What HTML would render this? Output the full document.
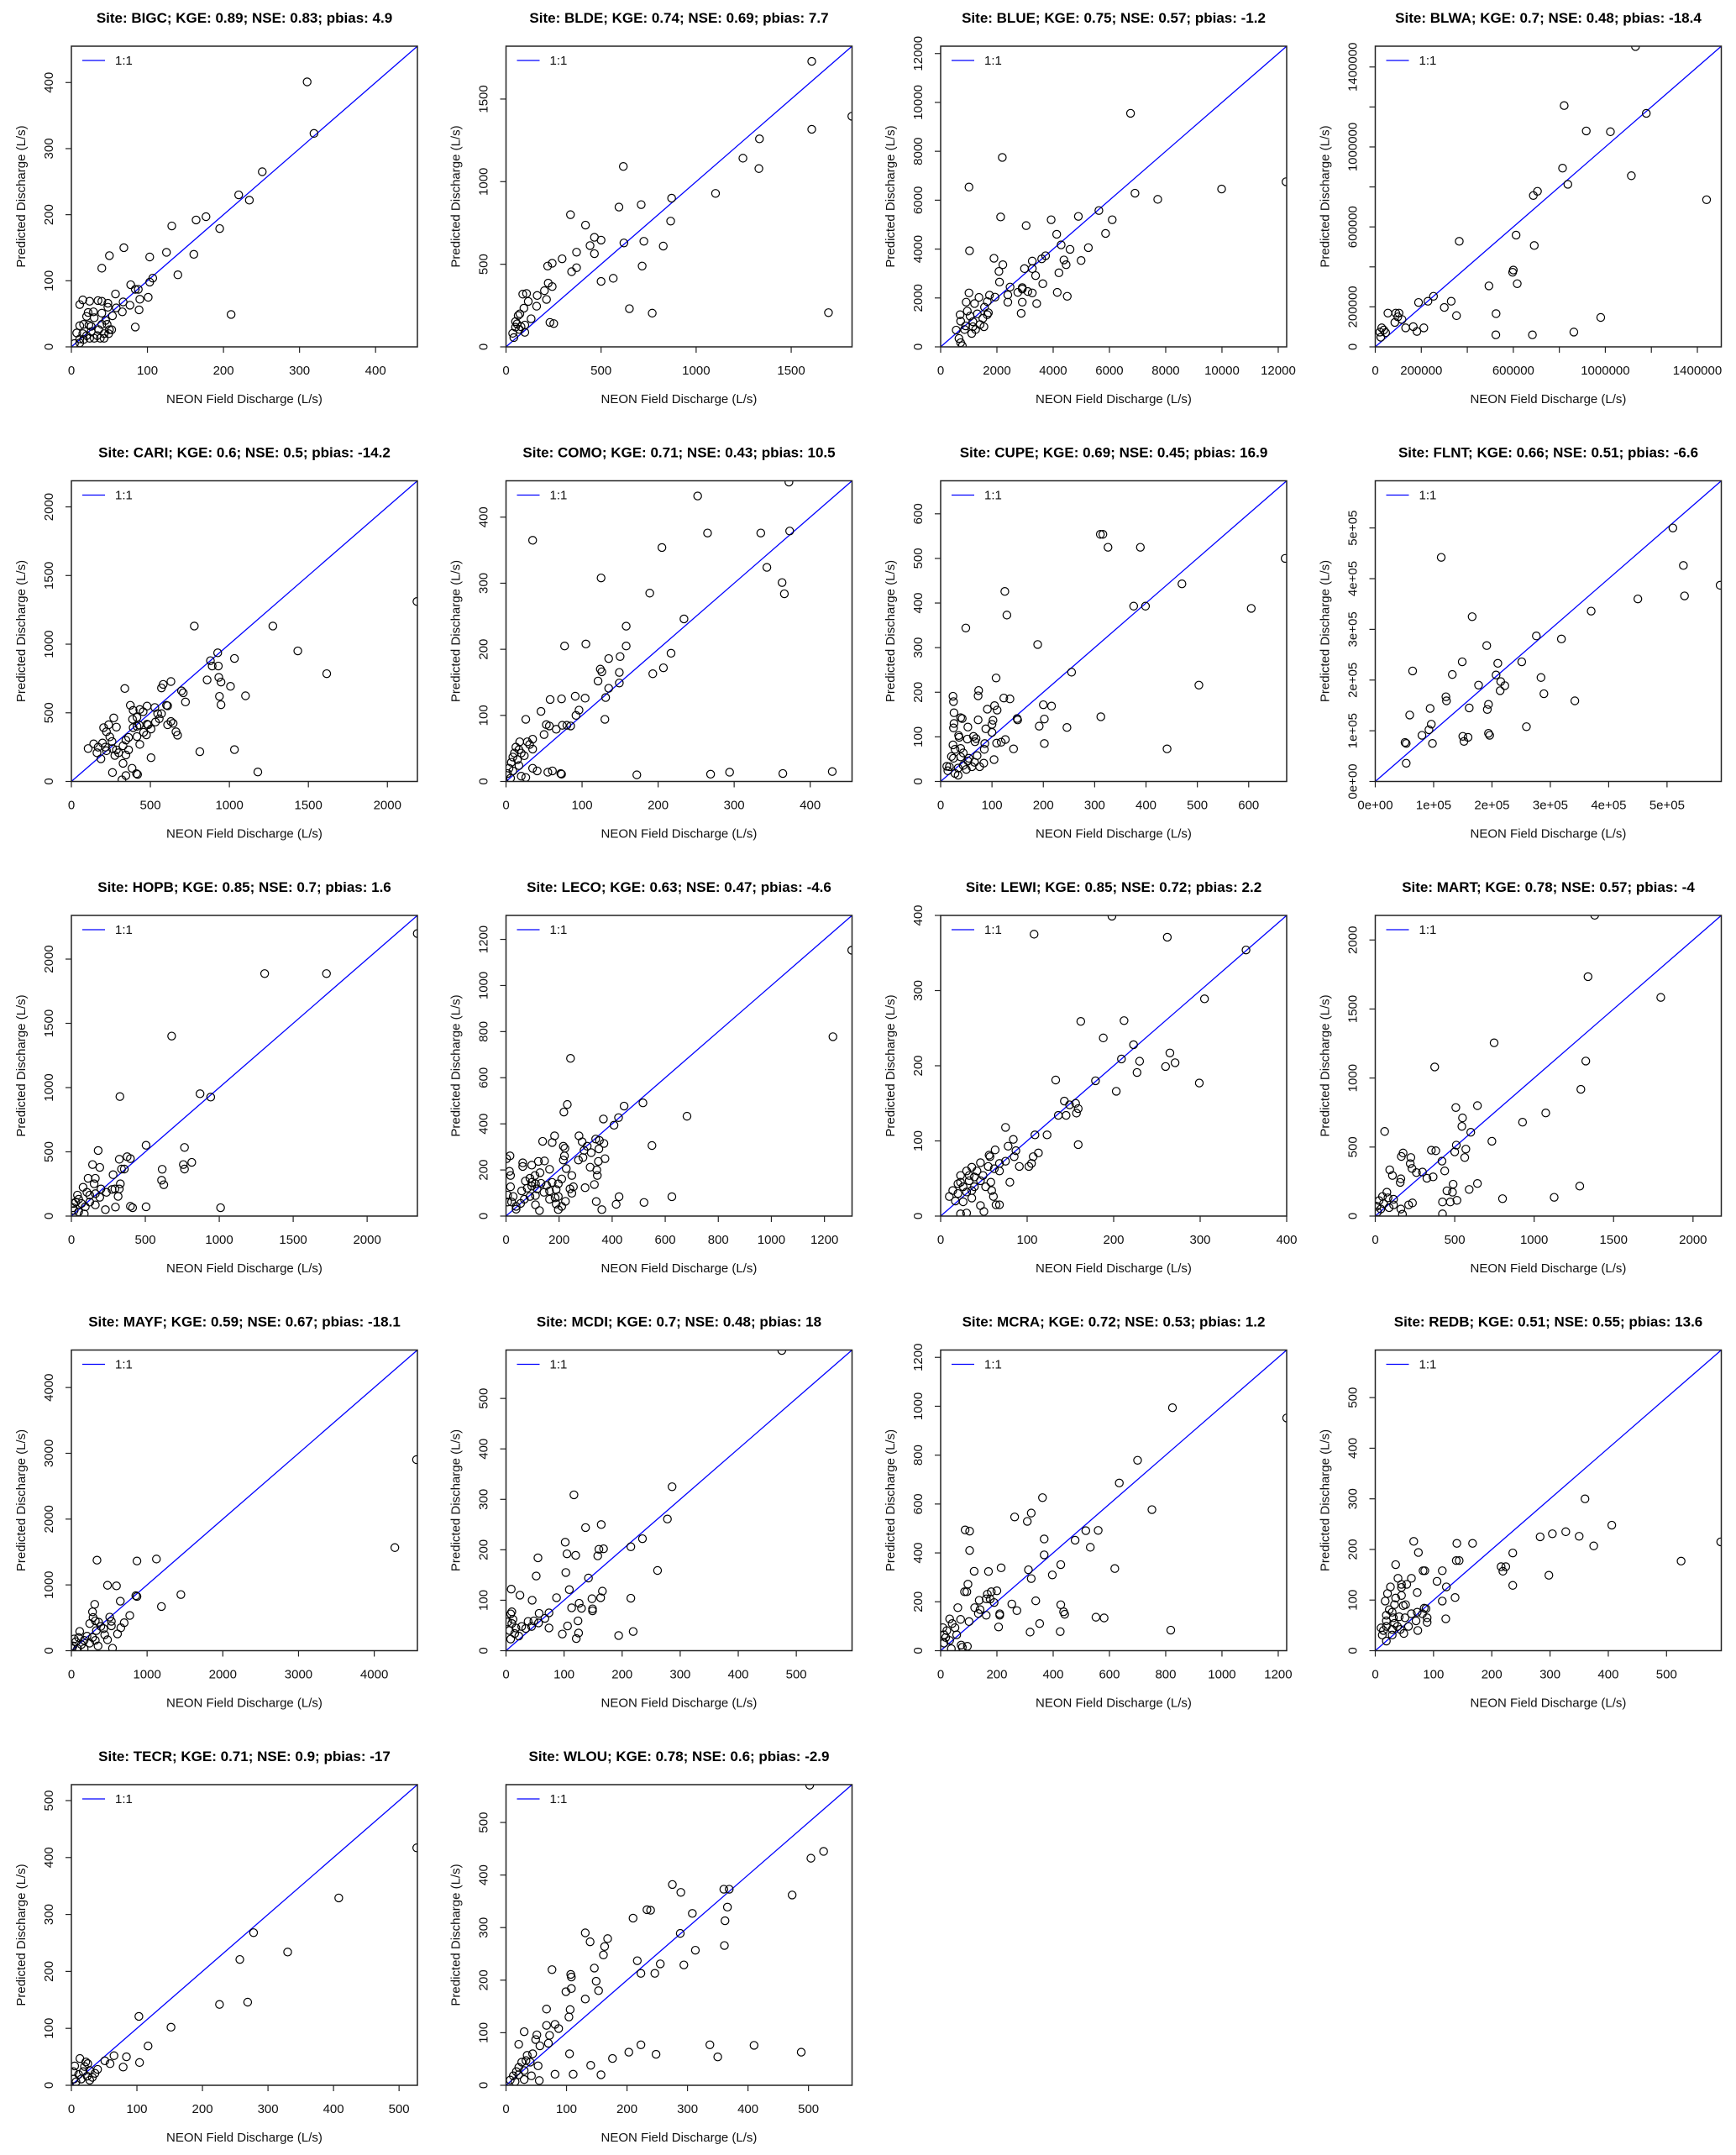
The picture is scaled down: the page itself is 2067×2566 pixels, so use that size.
<!DOCTYPE html>
<html><head><meta charset="utf-8"><title>Predicted vs NEON field discharge</title>
<style>
html,body{margin:0;padding:0;background:#fff;}
svg{display:block;font-family:"Liberation Sans",Arial,sans-serif;}
</style></head>
<body>
<svg id="chart" width="2067" height="2566" viewBox="0 0 2067 2566" xmlns="http://www.w3.org/2000/svg"></svg>
<script>
// ---------- data ----------
const siteNames = ["BIGC","BLDE","BLUE","BLWA","CARI","COMO","CUPE","FLNT","HOPB","LECO","LEWI","MART","MAYF","MCDI","MCRA","REDB","TECR","WLOU"];
const kgeValues = ["0.89","0.74","0.75","0.7","0.6","0.71","0.69","0.66","0.85","0.63","0.85","0.78","0.59","0.7","0.72","0.51","0.71","0.78"];
const nseValues = ["0.83","0.69","0.57","0.48","0.5","0.43","0.45","0.51","0.7","0.47","0.72","0.57","0.67","0.48","0.53","0.55","0.9","0.6"];
const pbiasValues = ["4.9","7.7","-1.2","-18.4","-14.2","10.5","16.9","-6.6","1.6","-4.6","2.2","-4","-18.1","18","1.2","13.6","-17","-2.9"];
const axisMax = [455,1820,12300,1504,2190,455,674,5.93,2340,1304,400,2178,4570,596,1230,594,528,572];
const tickSteps = [100,500,2000,200,500,100,100,1,500,200,100,500,1000,100,200,100,100,100];
const tickLast = [400,1500,12000,1400,2000,400,600,5,2000,1200,400,2000,4000,500,1200,500,500,500];
// BLWA values in thousands, FLNT values in units of 1e5
const blwaLabels = {"0":"0","200":"200000","600":"600000","1000":"1000000","1400":"1400000"};
const flntLabels = ["0e+00","1e+05","2e+05","3e+05","4e+05","5e+05"];

const bigcX=[310,319,251,220,234,177,164,195,132,125,161,69,50,103,40,140,107,103,78,88,84,58,101,90,210,89,84,68,77,15,11,24,35,40,48,48,22,29,40,20,30,59,67,54,45,40,47,11,16,23,7,15,26,36,50,53,30,38,43,11,20,4,11,16,24,34,43,49,26];
const bigcY=[401,323,265,230,222,197,192,179,183,143,140,150,138,136,119,109,104,98,94,87,87,80,75,72,49,56,30,68,63,71,64,69,70,69,66,60,52,53,51,46,44,59,53,47,40,34,34,32,34,33,21,20,23,26,26,26,13,13,13,12,17,5,6,11,13,17,20,20,31];
const bldeX=[1608,1819,1608,1333,1246,1330,617,1102,871,711,594,339,418,465,500,442,371,465,620,725,866,827,295,243,219,345,371,716,564,500,649,769,1696,222,243,202,213,164,108,88,117,161,94,73,64,132,231,251,58,99,50,70,35,41,99,79,50];
const bldeY=[1728,1396,1317,1259,1142,1079,1092,929,900,861,846,800,737,663,646,613,573,564,629,639,761,610,533,506,489,455,479,489,415,396,231,204,207,386,365,340,287,311,323,319,275,246,234,200,190,170,148,141,139,132,119,105,82,56,88,122,153];
const blueX=[6750,2191,1007,12276,9987,6908,7717,5625,4895,2132,3928,6099,3039,5862,4125,4283,5250,4599,1026,3730,3592,4382,4993,3257,4461,2211,1895,2072,2980,3257,3375,4204,2092,3631,2467,2901,2901,3099,2743,3257,4145,4500,2388,2388,2901,3414,2862,1007,908,1737,1362,1934,1658,1204,1559,947,691,711,1046,1303,1145,1500,1658,1697,1401,1145,849,553,651,711,770,1105,888,1243,1539];
const blueY=[9554,7749,6537,6754,6457,6286,6034,5577,5337,5314,5200,5200,4960,4640,4606,4171,4057,3989,3931,3726,3600,3554,3531,3509,3360,3360,3623,3086,3200,3200,2914,3029,2651,2583,2446,2366,2423,2263,2229,2206,2229,2069,2126,1829,1829,1771,1371,2206,1829,2114,2023,2034,1851,1771,1623,1463,1314,1051,1257,1349,1029,1166,1314,1394,914,823,709,686,343,171,46,549,857,709,823];
const blwaX=[1131,821,1178,917,1022,814,1113,837,687,705,1440,612,691,365,600,597,617,494,253,229,188,330,300,353,525,980,55,89,103,98,116,85,132,165,211,181,524,683,863,28,37,45,20,24];
const blwaY=[1502,1207,1168,1080,1076,894,856,813,757,778,736,559,507,528,384,373,316,305,253,228,222,228,197,156,166,147,169,169,169,150,137,122,95,101,95,77,60,60,74,95,84,71,74,48];
const cariX=[2187,778,1275,1433,1616,926,1032,880,930,891,933,859,947,1007,1102,937,947,722,630,581,570,338,697,708,609,602,630,644,662,672,504,475,528,570,556,532,479,415,433,373,391,454,479,387,429,457,415,345,362,433,391,268,285,222,204,236,243,257,197,169,141,106,162,222,187,285,327,362,345,275,299,504,813,1032,1180,260,327,384,412,419,345,320,260,215,415,486,609,546];
const cariY=[1311,1132,1132,951,785,937,896,880,841,841,758,740,724,693,624,620,559,579,728,707,681,677,660,646,551,555,437,423,362,337,382,339,539,494,457,433,417,467,524,555,518,508,549,453,411,358,327,301,321,270,392,463,396,362,392,413,325,291,280,250,274,240,209,224,165,230,260,230,193,189,209,173,217,232,69,65,132,96,57,51,43,12,240,250,402,413,413,494];
const comoX=[372,252,35,265,335,373,205,343,125,363,189,366,234,158,77,105,158,217,150,135,124,126,149,193,207,121,149,135,58,73,91,104,131,96,92,46,26,130,53,57,66,74,80,85,50,35,18,28,31,13,35,20,24,9,15,7,17,4,9,2,6,20,26,35,41,61,55,72,73,172,269,294,364,429,11,17];
const comoY=[453,432,365,376,376,379,354,324,308,301,285,284,246,235,205,208,205,194,189,186,170,166,165,163,172,152,149,141,124,125,129,126,127,108,100,106,94,94,86,84,79,85,85,84,71,64,60,60,56,52,49,43,39,37,33,29,24,20,16,12,5,8,6,20,16,16,14,12,11,10,11,14,12,15,43,48];
const cupeX=[311,316,326,389,671,470,125,376,399,605,129,49,189,255,503,108,24,25,74,73,123,135,26,91,105,110,216,200,149,150,202,312,192,246,39,42,26,25,53,88,73,102,100,35,36,64,52,100,126,118,109,142,441,202,69,67,85,86,24,28,104,84,76,21,25,39,55,71,53,44,34,17,14,28,34,50,61,66,44,39,12];
const cupeY=[554,554,525,525,500,443,426,393,393,388,373,344,307,245,216,232,191,179,204,192,187,185,154,162,170,160,169,172,141,138,140,145,124,121,143,141,130,120,122,118,138,137,128,103,99,101,95,110,94,88,86,73,73,85,96,89,72,85,82,72,49,41,33,56,52,55,52,58,46,36,30,33,24,18,14,27,33,43,64,74,34];
const flntX=[5.10,1.13,5.28,5.91,5.30,4.50,3.70,1.66,2.76,3.19,1.91,1.49,2.10,2.51,0.64,1.32,2.07,2.84,2.15,2.22,1.77,2.14,2.89,1.21,1.22,3.42,0.94,1.61,1.94,1.92,0.59,0.96,0.92,2.59,0.80,0.98,1.50,1.59,1.52,1.94,1.96,0.51,0.53,0.53];
const flntY=[5.00,4.42,4.26,3.87,3.66,3.60,3.36,3.25,2.87,2.81,2.68,2.36,2.33,2.36,2.18,2.11,2.10,2.05,1.97,1.89,1.90,1.79,1.73,1.67,1.59,1.59,1.44,1.45,1.52,1.42,1.31,1.13,1.02,1.08,0.91,0.75,0.89,0.87,0.79,0.95,0.91,0.77,0.75,0.36];
const hopbX=[2339,1307,1725,678,328,870,942,505,765,181,377,399,324,143,192,757,814,765,339,358,614,610,625,282,331,113,162,154,79,105,200,237,275,294,162,124,192,316,324,298,230,399,414,505,1009,87,41,49,30,68,94,11,19,49,15,124,162];
const hopbY=[2199,1887,1887,1401,930,952,926,551,534,510,462,447,442,401,379,401,418,366,366,366,364,279,244,322,251,294,294,251,224,185,211,185,207,211,174,163,146,153,211,70,50,76,65,72,65,17,163,131,109,98,72,65,44,33,98,109,87];
const lecoX=[1303,1232,243,231,218,516,445,367,424,407,682,550,15,2,138,183,174,216,222,220,275,287,306,321,338,352,369,350,294,273,290,373,348,317,342,344,333,298,248,254,241,248,210,197,189,197,224,189,210,197,340,361,426,415,520,625,63,63,97,122,145,164,128,109,90,73,97,111,132,153,174,97,117,143,164,111,90,69,55,38,38,21,13,17,17,6,6,27,111,126,185,164,80,59,216,227];
const lecoY=[1153,778,684,484,451,491,477,421,427,394,433,306,261,249,324,348,319,303,294,261,348,322,303,275,334,328,315,291,285,243,254,249,237,212,200,176,137,123,176,127,118,99,161,140,115,85,64,52,42,28,63,28,84,51,59,84,231,215,221,237,239,203,188,176,164,152,146,140,142,133,146,130,118,103,73,89,85,73,55,42,30,61,194,176,127,91,61,85,49,24,79,109,121,109,243,206];
const lewiX=[198,108,262,353,305,162,212,188,223,209,230,265,271,260,227,133,179,299,203,143,149,156,159,157,145,136,75,109,123,84,159,78,87,63,113,107,85,56,57,75,68,105,102,91,46,55,62,68,80,58,59,61,64,68,46,50,30,23,14,20,23,30,36,42,39,33,26,20,10,17,26,36,30,39,46,49,52,36,23,33];
const lewiY=[399,375,371,354,289,259,260,237,228,209,206,217,204,199,191,181,180,177,166,153,148,150,143,137,134,134,118,108,108,102,95,93,87,88,84,79,79,81,79,73,70,70,66,66,71,66,63,60,45,45,34,26,15,15,14,6,4,3,34,43,54,60,65,60,52,47,39,30,26,20,19,24,32,39,47,54,39,34,45,54];
const martX=[1381,1339,1797,748,374,1325,1294,643,507,1073,549,927,545,59,601,734,510,570,353,381,500,563,420,224,175,164,220,231,91,259,297,325,364,108,157,161,437,490,451,486,591,643,1287,801,1126,423,472,514,234,161,171,423,210,115,73,45,80,24,10,35,52,87,115,14];
const martY=[2179,1734,1584,1255,1080,1123,918,800,786,747,711,680,650,613,607,542,514,485,477,473,465,424,398,424,457,432,380,345,335,315,319,274,284,294,244,270,327,231,183,173,193,236,217,126,136,102,102,114,95,51,14,16,81,81,173,142,132,112,71,51,91,61,122,30];
const mayfX=[4558,4272,338,866,1123,477,595,851,866,1446,1189,646,308,771,279,506,697,528,653,528,609,316,360,389,286,242,330,440,477,426,543,206,169,110,95,59,22,132,242,279,316,37,81,169,7,352];
const mayfY=[2904,1567,1376,1363,1393,994,985,836,824,853,671,752,705,535,590,510,425,446,348,378,255,454,433,369,505,412,306,242,166,335,38,221,157,293,200,136,72,93,115,200,157,178,30,30,30,72];
const mcdiX=[475,286,117,278,164,137,235,102,215,168,160,55,105,120,158,103,52,261,142,109,9,166,163,24,45,87,148,215,126,113,130,149,149,74,57,10,8,124,67,56,48,38,27,17,10,3,6,15,22,8,106,74,97,125,121,194,219,34,44,12];
const mcdiY=[595,325,309,261,250,244,222,215,206,202,201,184,192,189,188,155,148,159,144,121,122,118,105,110,100,105,103,104,94,85,84,83,79,75,74,77,73,59,64,55,59,58,48,45,54,57,40,34,29,23,49,45,33,35,24,30,38,44,48,62];
const mcraX=[1230,824,700,635,362,751,322,263,308,87,103,516,560,368,478,532,103,368,215,119,170,619,427,312,322,397,97,200,85,93,180,166,162,176,190,137,253,338,427,61,121,140,134,162,210,210,271,437,441,352,206,318,425,552,581,818,73,95,77,101,71,32,41,51,22,12,32,12,38,57,8,18];
const mcraY=[952,994,779,686,626,577,563,547,529,494,489,491,492,457,452,423,410,392,339,325,324,336,352,331,295,310,272,245,241,241,241,231,212,211,197,206,191,204,188,176,176,168,152,145,151,145,164,159,149,111,97,76,78,137,134,84,23,18,14,119,128,130,111,94,82,65,42,31,8,65,94,54];
const redbX=[593,360,406,304,327,283,350,375,525,298,236,236,216,224,219,66,74,140,167,139,144,35,82,85,115,106,122,115,137,121,72,62,45,45,39,54,26,21,35,45,17,33,48,52,24,29,19,19,31,41,51,62,72,84,87,81,89,89,73,49,29,14,10,19,29,38,33,12,19,43,57,70];
const redbY=[215,300,248,231,235,225,226,207,177,149,129,193,166,166,157,216,194,212,212,178,178,170,158,158,158,137,126,98,105,63,115,143,131,125,143,131,126,113,104,109,98,91,89,91,81,76,70,59,65,67,65,73,76,84,83,73,65,56,40,34,31,40,45,48,42,48,54,31,19,42,48,59];
const tecrX=[527,408,278,330,257,226,269,103,152,117,65,84,51,59,79,104,13,5,22,25,40,36,28,20,18,11,4,15,24,7,28,32,3];
const tecrY=[417,329,268,234,221,142,146,121,102,69,52,50,43,38,32,40,47,34,41,38,28,21,26,33,24,19,11,11,16,6,9,14,24];
const wlouX=[502,525,504,275,289,360,369,473,233,239,210,366,308,362,131,288,139,168,163,161,361,313,217,255,294,146,76,107,108,223,246,149,108,99,153,131,67,106,104,81,87,67,30,72,51,49,21,70,56,44,35,105,140,176,203,223,248,337,350,410,488,81,111,157,53,42,30,55,21,17,12,7,21,30,26,40,15,33];
const wlouY=[571,445,432,382,367,373,373,362,334,333,318,339,327,313,290,289,273,279,264,248,266,257,237,231,229,223,220,211,206,213,213,198,184,178,180,164,145,144,130,116,108,114,102,95,96,87,78,80,75,60,57,60,38,51,63,77,59,77,54,76,63,21,21,20,37,18,11,9,34,26,18,10,20,28,44,44,7,47];

const seriesX = [bigcX,bldeX,blueX,blwaX,cariX,comoX,cupeX,flntX,hopbX,lecoX,lewiX,martX,mayfX,mcdiX,mcraX,redbX,tecrX,wlouX];
const seriesY = [bigcY,bldeY,blueY,blwaY,cariY,comoY,cupeY,flntY,hopbY,lecoY,lewiY,martY,mayfY,mcdiY,mcraY,redbY,tecrY,wlouY];

// ---------- drawing ----------
const NS = "http://www.w3.org/2000/svg";
const svg = document.getElementById("chart");
const PW = 412, PH = 358;
function mk(tag, attrs, parent){
  const e = document.createElementNS(NS, tag);
  for (const k in attrs) e.setAttribute(k, attrs[k]);
  parent.appendChild(e);
  return e;
}
function tickLabel(i, v){
  if (i === 3) return blwaLabels[String(v)] || "";
  if (i === 7) return flntLabels[Math.round(v)];
  return String(v);
}

siteNames.forEach((site, i) => {
  const col = i % 4, row = Math.floor(i / 4);
  const L = 85 + col * 517.5, T = 55 + row * 517.5;
  const mx = axisMax[i];
  const sx = v => L + v / mx * PW;
  const sy = v => T + PH - v / mx * PH;
  const g = mk("g", {}, svg);
  
  

  const title = mk("text", {x: L + PW/2, y: T - 28 + (row===0?0:0), "text-anchor":"middle", "font-size":"17", "font-weight":"bold", fill:"#000"}, g);
  
  
  title.textContent = "Site: " + site + "; KGE: " + kgeValues[i] + "; NSE: " + nseValues[i] + "; pbias: " + pbiasValues[i];

  const clipId = "clip" + i;
  const cp = mk("clipPath", {id: clipId}, g);
  mk("rect", {x: L, y: T, width: PW, height: PH}, cp);

  // 1:1 line
  const line = mk("line", {x1: sx(0), y1: sy(0), x2: sx(mx), y2: sy(mx), stroke:"#0000ff", "stroke-width":"1.3", "clip-path":"url(#"+clipId+")"}, g);
  
  

  // points
  const xs = seriesX[i], ys = seriesY[i];
  const n = Math.min(xs.length, ys.length);
  const pg = mk("g", {"clip-path":"url(#"+clipId+")", fill:"none", stroke:"#000", "stroke-width":"1.2"}, g);
  
  
  for (let k = 0; k < n; k++){
    const c = mk("circle", {cx: sx(xs[k]), cy: sy(ys[k]), r: 4.6}, pg);
    
    
  }

  // box
  const box = mk("rect", {x: L, y: T, width: PW, height: PH, fill:"none", stroke:"#222", "stroke-width":"1.5"}, g);
  
  

  // ticks
  for (let v = 0; v <= tickLast[i] + 1e-9; v += tickSteps[i]){
    const vv = Math.round(v * 1000) / 1000;
    const X = sx(vv), Y = sy(vv);
    const xt = mk("line", {x1: X, y1: T+PH, x2: X, y2: T+PH+7, stroke:"#222", "stroke-width":"1.2"}, g);
    
    
    const yt = mk("line", {x1: L, y1: Y, x2: L-7, y2: Y, stroke:"#222", "stroke-width":"1.2"}, g);
    
    
    const lab = tickLabel(i, vv);
    if (lab){
      const xl = mk("text", {x: X, y: T+PH+33, "text-anchor":"middle", "font-size":"15", fill:"#111"}, g);
      
      
      xl.textContent = lab;
      const yl = mk("text", {x: 0, y: 0, "text-anchor":"middle", "font-size":"15", fill:"#111", transform:"translate("+(L-22)+","+Y+") rotate(-90)"}, g);
      
      
      yl.textContent = lab;
    }
  }

  const xt = mk("text", {x: L + PW/2, y: T+PH+67, "text-anchor":"middle", "font-size":"15", fill:"#111"}, g);
  
  
  xt.textContent = "NEON Field Discharge (L/s)";
  const yt = mk("text", {x: 0, y: 0, "text-anchor":"middle", "font-size":"15", fill:"#111", transform:"translate("+(L-55)+","+(T+PH/2)+") rotate(-90)"}, g);
  
  
  yt.textContent = "Predicted Discharge (L/s)";

  // legend
  const lg = mk("line", {x1: L+13, y1: T+17, x2: L+40, y2: T+17, stroke:"#0000ff", "stroke-width":"1.3"}, g);
  
  
  const lt = mk("text", {x: L+52, y: T+22, "font-size":"15", fill:"#111"}, g);
  
  
  lt.textContent = "1:1";
});
</script>
</body></html>
